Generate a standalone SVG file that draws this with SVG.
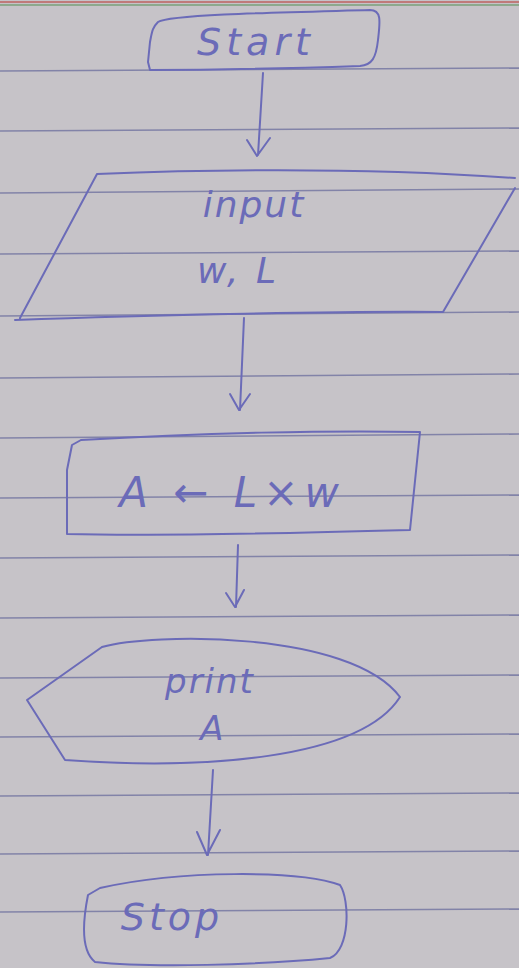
<svg xmlns="http://www.w3.org/2000/svg" width="519" height="968" viewBox="0 0 519 968">
<style>
.rule{stroke:#8283a8;stroke-width:1.6;fill:none}
.ink{stroke:#6b6bb8;stroke-width:2;fill:none;stroke-linecap:round;stroke-linejoin:round}
.t{font-family:"DejaVu Sans",sans-serif;fill:#6b6bb8;text-anchor:middle;font-style:italic}
</style>
<rect width="519" height="968" fill="#c6c3c8"/>
<line x1="0" y1="2" x2="519" y2="2" stroke="#c07a7a" stroke-width="2"/>
<line x1="0" y1="5" x2="519" y2="5" stroke="#7aa07a" stroke-width="1.5"/>
<g id="rules">
<line class="rule" x1="0" y1="71" x2="519" y2="68"/>
<line class="rule" x1="0" y1="131" x2="519" y2="128"/>
<line class="rule" x1="0" y1="193" x2="519" y2="189"/>
<line class="rule" x1="0" y1="254" x2="519" y2="251"/>
<line class="rule" x1="0" y1="316" x2="519" y2="312"/>
<line class="rule" x1="0" y1="378" x2="519" y2="374"/>
<line class="rule" x1="0" y1="438" x2="519" y2="434"/>
<line class="rule" x1="0" y1="498" x2="519" y2="495"/>
<line class="rule" x1="0" y1="558" x2="519" y2="555"/>
<line class="rule" x1="0" y1="618" x2="519" y2="615"/>
<line class="rule" x1="0" y1="678" x2="519" y2="675"/>
<line class="rule" x1="0" y1="737" x2="519" y2="734"/>
<line class="rule" x1="0" y1="796" x2="519" y2="793"/>
<line class="rule" x1="0" y1="854" x2="519" y2="851"/>
<line class="rule" x1="0" y1="912" x2="519" y2="909"/>
</g>
<g id="connectors">
<path class="ink" d="M263,73 L258,155 M247,140 L257,156 L270,138"/>
<path class="ink" d="M244,318 L240,410 M230,394 L239,410 L250,394"/>
<path class="ink" d="M238,545 L236,607 M226,593 L235,607 L244,590"/>
<path class="ink" d="M213,770 L208,855 M197,832 L207,855 L220,830"/>
</g>
<g id="start">
<path class="ink" d="M158,22 C170,14 300,12 370,10 C382,10 380,22 378,40 C376,58 372,65 360,66 C300,68 200,70 150,70 L148,62 L150,42 C152,32 152,28 158,22"/>
<text class="t" x="256" y="55" font-size="38" letter-spacing="5">Start</text>
</g>
<g id="input">
<path class="ink" d="M97,174 C250,168 400,170 515,178 M97,174 L20,318 M15,320 C150,315 350,311 443,312 L515,188"/>
<text class="t" x="254" y="217" font-size="36" letter-spacing="2">input</text>
<text class="t" x="238" y="283" font-size="36" letter-spacing="3">w, L</text>
</g>
<g id="calc">
<path class="ink" d="M81,440 C200,433 330,430 420,432 L410,530 C300,533 150,536 67,534 L67,470 L72,445 L81,440"/>
<text class="t" x="232" y="507" font-size="42" letter-spacing="6">A ← L×w</text>
</g>
<g id="print">
<path class="ink" d="M102,647 C150,633 350,630 400,697 C360,760 200,770 65,760 L27,700 L102,647"/>
<text class="t" x="210" y="693" font-size="34" letter-spacing="2">print</text>
<text class="t" x="212" y="740" font-size="34">A</text>
</g>
<g id="stop">
<path class="ink" d="M100,888 C180,870 300,870 340,885 C350,900 350,950 330,958 C260,965 150,968 95,962 C80,950 83,920 88,895 Z"/>
<text class="t" x="172" y="930" font-size="38" letter-spacing="4">Stop</text>
</g>
</svg>
